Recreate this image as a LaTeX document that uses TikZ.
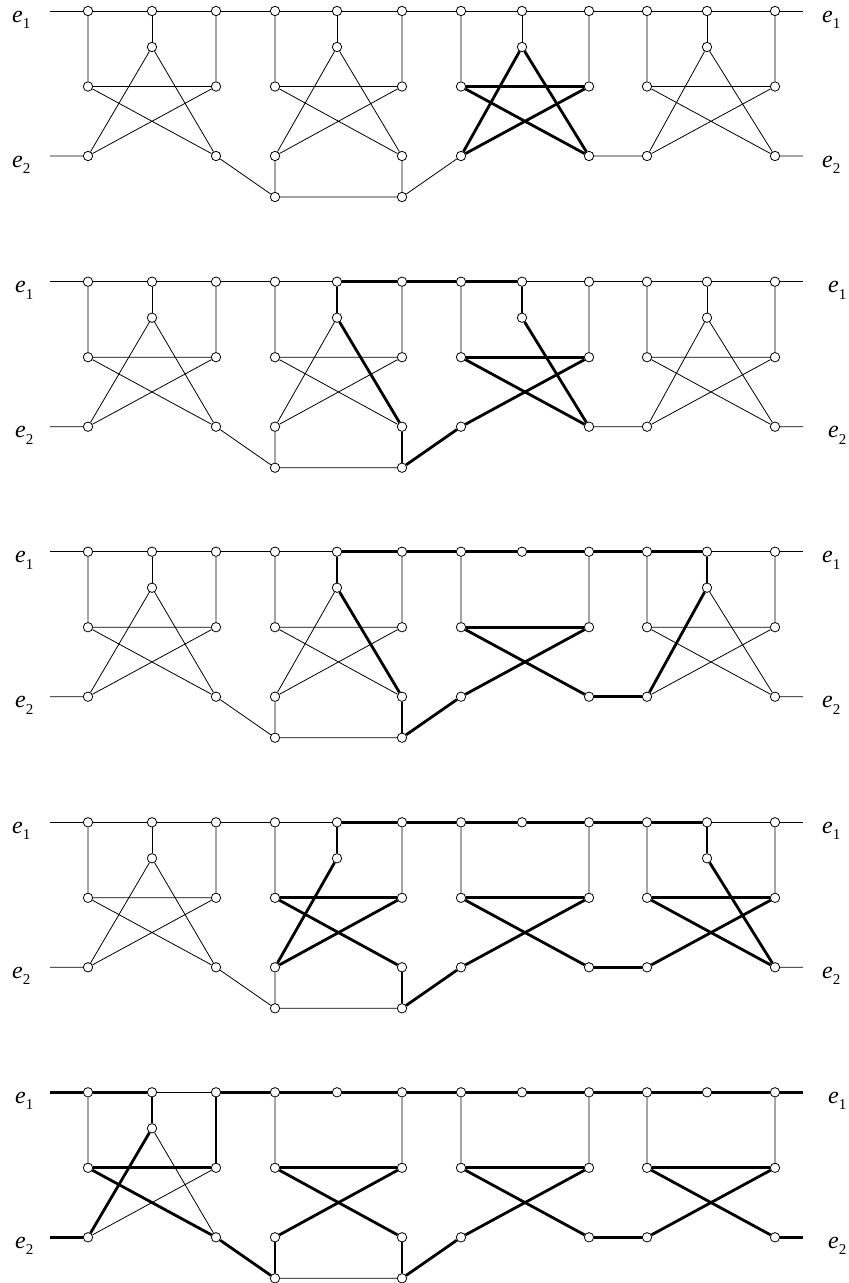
\documentclass[tikz,border=0pt]{standalone}
\usepackage{fontspec}
\setmainfont{Liberation Serif}
\usetikzlibrary{backgrounds}
\tikzset{
  v/.style={circle,draw,fill=white,inner sep=0pt,minimum size=9.4pt,line width=0.8pt},
  thinedge/.style={line width=0.8pt},
  boldedge/.style={line width=2.8pt},
  lab/.style={inner sep=0pt,anchor=base west}
}
\newcommand\elab[1]{\fontsize{24}{24}\selectfont\textit{e}\raisebox{-0.27em}{\fontsize{15}{15}\selectfont #1}}
% gadget nodes: #1 row, #2 gadget, #3 ytop, #4 L, #5 M, #6 R, #7 mode (0 = no middle vertex)
\newcommand\gad[7]{%
  \node[v] (r#1g#2tl) at (#4,#3) {};
  \node[v] (r#1g#2tm) at (#5,#3) {};
  \node[v] (r#1g#2tr) at (#6,#3) {};
  \ifnum#7>0 \node[v] (r#1g#2m) at (#5,{#3+36}) {};\fi
  \node[v] (r#1g#2sl) at (#4,{#3+75.5}) {};
  \node[v] (r#1g#2sr) at (#6,{#3+75.5}) {};
  \node[v] (r#1g#2bl) at (#4,{#3+145}) {};
  \node[v] (r#1g#2br) at (#6,{#3+145}) {};
}
% thin gadget edges: mode 0 none, 1 full, 2 middle without bl, 3 middle without br
\newcommand\gedges[3]{%
  \draw[thinedge] (r#1g#2tl)--(r#1g#2sl) (r#1g#2tr)--(r#1g#2sr)
    (r#1g#2sl)--(r#1g#2sr) (r#1g#2sl)--(r#1g#2br) (r#1g#2sr)--(r#1g#2bl);
  \ifnum#3>0 \draw[thinedge] (r#1g#2tm)--(r#1g#2m);\fi
  \ifnum#3=1 \draw[thinedge] (r#1g#2m)--(r#1g#2bl) (r#1g#2m)--(r#1g#2br);\fi
  \ifnum#3=2 \draw[thinedge] (r#1g#2m)--(r#1g#2br);\fi
  \ifnum#3=3 \draw[thinedge] (r#1g#2m)--(r#1g#2bl);\fi
}
% row: #1 row, #2 ytop, #3-#6 modes, #7 left label x, #8 right label x
\newcommand\drawrow[8]{%
  \gad{#1}{1}{#2}{88}{152}{216}{#3}
  \gad{#1}{2}{#2}{275}{337}{402}{#4}
  \gad{#1}{3}{#2}{461}{522}{589}{#5}
  \gad{#1}{4}{#2}{647}{707}{775}{#6}
  \node[v] (r#1g2ll) at (275,{#2+186}) {};
  \node[v] (r#1g2lr) at (402,{#2+186}) {};
  \coordinate (r#1e1l) at (50,#2);
  \coordinate (r#1e1r) at (803,#2);
  \coordinate (r#1e2l) at (50,{#2+145});
  \coordinate (r#1e2r) at (803,{#2+145});
  \node[lab] (r#1la) at (#7,{#2+11}) {\elab{1}};
  \node[lab] (r#1lb) at (#7,{#2+156}) {\elab{2}};
  \node[lab] (r#1lc) at (#8,{#2+11}) {\elab{1}};
  \node[lab] (r#1ld) at (#8,{#2+156}) {\elab{2}};
  \begin{pgfonlayer}{background}
    \draw[thinedge] (r#1e1l)--(r#1g1tl)--(r#1g1tm)--(r#1g1tr)--(r#1g2tl)--(r#1g2tm)--(r#1g2tr)
      --(r#1g3tl)--(r#1g3tm)--(r#1g3tr)--(r#1g4tl)--(r#1g4tm)--(r#1g4tr)--(r#1e1r);
    \gedges{#1}{1}{#3}
    \gedges{#1}{2}{#4}
    \gedges{#1}{3}{#5}
    \gedges{#1}{4}{#6}
    \draw[thinedge] (r#1e2l)--(r#1g1bl) (r#1g1br)--(r#1g2ll) (r#1g2bl)--(r#1g2ll)
      (r#1g2br)--(r#1g2lr) (r#1g2ll)--(r#1g2lr) (r#1g2lr)--(r#1g3bl)
      (r#1g3br)--(r#1g4bl) (r#1g4br)--(r#1e2r);
  \end{pgfonlayer}
}
\newcommand\boldlist[1]{%
  \begin{pgfonlayer}{background}
    \foreach \a/\b in {#1} \draw[boldedge] (\a)--(\b);
  \end{pgfonlayer}
}
\begin{document}
\begin{tikzpicture}[x=1pt,y=-1pt]
\useasboundingbox (0,0) rectangle (849,1283);
% row 1
\drawrow{1}{11}{1}{1}{1}{1}{12}{822}
\boldlist{r1g3m/r1g3bl, r1g3m/r1g3br, r1g3sl/r1g3sr, r1g3sl/r1g3br, r1g3sr/r1g3bl}
% row 2
\drawrow{2}{281.7}{1}{1}{2}{1}{15}{828}
\boldlist{r2g2tm/r2g2tr, r2g2tr/r2g3tl, r2g3tl/r2g3tm, r2g2tm/r2g2m, r2g2m/r2g2br,
  r2g2br/r2g2lr, r2g2lr/r2g3bl, r2g3bl/r2g3sr, r2g3sr/r2g3sl, r2g3sl/r2g3br,
  r2g3br/r2g3m, r2g3m/r2g3tm}
% row 3
\drawrow{3}{551.7}{1}{1}{0}{1}{15}{822}
\boldlist{r3g2tm/r3g2tr, r3g2tr/r3g3tl, r3g3tl/r3g3tm, r3g3tm/r3g3tr, r3g3tr/r3g4tl,
  r3g4tl/r3g4tm, r3g2tm/r3g2m, r3g2m/r3g2br, r3g2br/r3g2lr, r3g2lr/r3g3bl,
  r3g3bl/r3g3sr, r3g3sr/r3g3sl, r3g3sl/r3g3br, r3g3br/r3g4bl, r3g4bl/r3g4m, r3g4m/r3g4tm}
% row 4
\drawrow{4}{822.3}{1}{3}{0}{2}{12}{822}
\boldlist{r4g2tm/r4g2tr, r4g2tr/r4g3tl, r4g3tl/r4g3tm, r4g3tm/r4g3tr, r4g3tr/r4g4tl,
  r4g4tl/r4g4tm, r4g2tm/r4g2m, r4g2m/r4g2bl, r4g2bl/r4g2sr, r4g2sr/r4g2sl,
  r4g2sl/r4g2br, r4g2br/r4g2lr, r4g2lr/r4g3bl, r4g3bl/r4g3sr, r4g3sr/r4g3sl,
  r4g3sl/r4g3br, r4g3br/r4g4bl, r4g4bl/r4g4sr, r4g4sr/r4g4sl, r4g4sl/r4g4br,
  r4g4br/r4g4m, r4g4m/r4g4tm}
% row 5
\drawrow{5}{1092.3}{1}{0}{0}{0}{15}{828}
\boldlist{r5e1l/r5g1tl, r5g1tl/r5g1tm, r5g1tr/r5g2tl, r5g2tl/r5g2tm, r5g2tm/r5g2tr,
  r5g2tr/r5g3tl, r5g3tl/r5g3tm, r5g3tm/r5g3tr, r5g3tr/r5g4tl, r5g4tl/r5g4tm,
  r5g4tm/r5g4tr, r5g4tr/r5e1r, r5g1tm/r5g1m, r5g1m/r5g1bl, r5g1bl/r5e2l,
  r5g1tr/r5g1sr, r5g1sr/r5g1sl, r5g1sl/r5g1br, r5g1br/r5g2ll, r5g2ll/r5g2bl,
  r5g2bl/r5g2sr, r5g2sr/r5g2sl, r5g2sl/r5g2br, r5g2br/r5g2lr, r5g2lr/r5g3bl,
  r5g3bl/r5g3sr, r5g3sr/r5g3sl, r5g3sl/r5g3br, r5g3br/r5g4bl, r5g4bl/r5g4sr,
  r5g4sr/r5g4sl, r5g4sl/r5g4br, r5g4br/r5e2r}
\end{tikzpicture}
\end{document}
